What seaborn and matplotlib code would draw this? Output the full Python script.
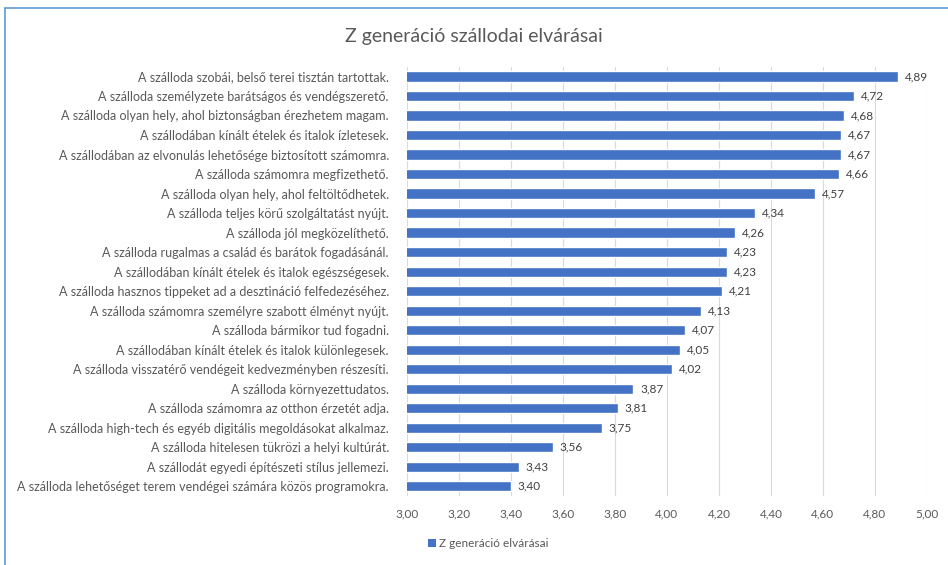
import matplotlib
matplotlib.use("Agg")
import matplotlib.pyplot as plt
import seaborn as sns
import pandas as pd
from matplotlib.patches import Patch
from matplotlib.lines import Line2D

# adatok
labels = [
    "A szálloda szobái, belső terei tisztán tartottak.",
    "A szálloda személyzete barátságos és vendégszerető.",
    "A szálloda olyan hely, ahol biztonságban érezhetem magam.",
    "A szállodában kínált ételek és italok ízletesek.",
    "A szállodában az elvonulás lehetősége biztosított számomra.",
    "A szálloda számomra megfizethető.",
    "A szálloda olyan hely, ahol feltöltődhetek.",
    "A szálloda teljes körű szolgáltatást nyújt.",
    "A szálloda jól megközelíthető.",
    "A szálloda rugalmas a család és barátok fogadásánál.",
    "A szállodában kínált ételek és italok egészségesek.",
    "A szálloda hasznos tippeket ad a desztináció felfedezéséhez.",
    "A szálloda számomra személyre szabott élményt nyújt.",
    "A szálloda bármikor tud fogadni.",
    "A szállodában kínált ételek és italok különlegesek.",
    "A szálloda visszatérő vendégeit kedvezményben részesíti.",
    "A szálloda környezettudatos.",
    "A szálloda számomra az otthon érzetét adja.",
    "A szálloda high-tech és egyéb digitális megoldásokat alkalmaz.",
    "A szálloda hitelesen tükrözi a helyi kultúrát.",
    "A szállodát egyedi építészeti stílus jellemezi.",
    "A szálloda lehetőséget terem vendégei számára közös programokra.",
]
values = [4.89, 4.72, 4.68, 4.67, 4.67, 4.66, 4.57, 4.34, 4.26, 4.23, 4.23,
          4.21, 4.13, 4.07, 4.05, 4.02, 3.87, 3.81, 3.75, 3.56, 3.43, 3.40]
x_ticks = [3.0, 3.2, 3.4, 3.6, 3.8, 4.0, 4.2, 4.4, 4.6, 4.8, 5.0]
series_name = "Z generáció elvárásai"
title = "Z generáció szállodai elvárásai"

bar_color = "#4472C4"
text_color = "#595959"

sns.set_style("white")
plt.rcParams["font.family"] = ["Lato", "DejaVu Sans"]

df = pd.DataFrame({"label": labels, "value": values})

fig = plt.figure(figsize=(9.48, 5.65), dpi=100)
ax = fig.add_axes([0.4293, 0.122, 0.5485, 0.76])

sns.barplot(data=df, x="value", y="label", color=bar_color, width=0.52,
            saturation=1, ax=ax, zorder=3)

ax.set_xlim(3.0, 5.0)
ax.set_xticks(x_ticks)
ax.set_xticklabels([f"{t:.2f}".replace(".", ",") for t in x_ticks],
                   color=text_color, fontsize=8.5)
ax.tick_params(axis="y", labelsize=9, labelcolor=text_color, length=0, pad=13)
ax.tick_params(axis="x", length=0, pad=9)
ax.set_xlabel("")
ax.set_ylabel("")
ax.grid(axis="x", color="#D9D9D9", linewidth=0.8, zorder=0)
for s in ax.spines.values():
    s.set_visible(False)

ax.bar_label(ax.containers[0],
             labels=[f"{v:.2f}".replace(".", ",") for v in values],
             padding=5, fontsize=8.5, color="#404040")

fig.text(0.5, 0.935, title, ha="center", va="center", fontsize=14,
         color=text_color)

handle = Patch(facecolor=bar_color, edgecolor="none")
fig.legend([handle], [series_name], loc="center", bbox_to_anchor=(0.515, 0.038),
           frameon=False, fontsize=8.5, handlelength=0.7, handleheight=0.7,
           handletextpad=0.3, labelcolor=text_color)

# keret
fig.add_artist(Line2D([0.005, 0.005], [0.0, 0.986], color="#5B9BD5",
                      linewidth=1.2, transform=fig.transFigure))
fig.add_artist(Line2D([0.005, 1.0], [0.986, 0.986], color="#5B9BD5",
                      linewidth=1.2, transform=fig.transFigure))

fig.savefig("out.png", dpi=100)
